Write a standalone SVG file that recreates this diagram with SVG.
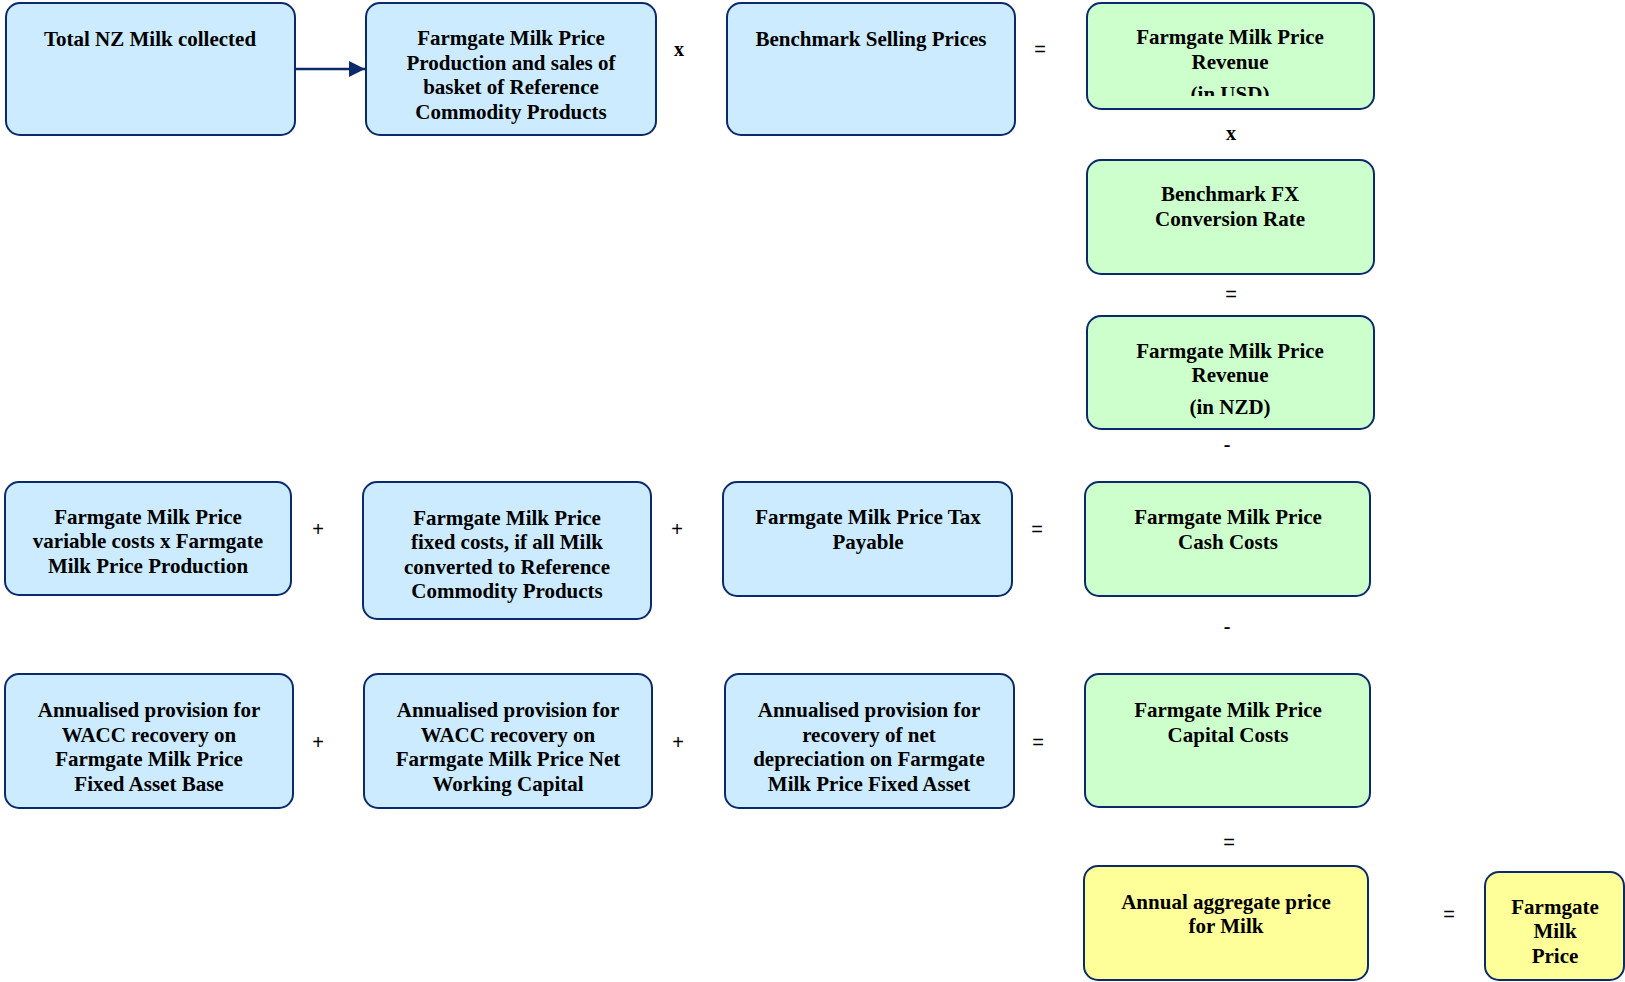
<svg xmlns="http://www.w3.org/2000/svg" width="1625" height="982" viewBox="0 0 1625 982">
<style>
.b{fill:#CCEBFF;stroke:#0B2A6B;stroke-width:2}
.g{fill:#CCFFCC;stroke:#0B2A6B;stroke-width:2}
.y{fill:#FFFF99;stroke:#0B2A6B;stroke-width:2}
text{font-family:"Liberation Serif","Times New Roman",serif;font-size:21px;font-weight:bold;fill:#000;text-anchor:middle;dominant-baseline:central}
.op{font-family:"Liberation Sans",Arial,sans-serif;font-weight:normal;font-size:20px}
.opb{font-weight:bold;font-size:20px}
</style>
<defs>
<marker id="ah" viewBox="0 0 10 10" refX="10" refY="5" markerWidth="17" markerHeight="16" orient="auto" markerUnits="userSpaceOnUse"><path d="M0,0 L10,5 L0,10 z" fill="#0B2A6B"/></marker>
<clipPath id="c4"><rect x="1087" y="3" width="287" height="93"/></clipPath>
</defs>
<rect width="1625" height="982" fill="#fff"/>
<g id="connectors">
<line x1="295" y1="69" x2="365" y2="69" stroke="#0B2A6B" stroke-width="2.5" marker-end="url(#ah)"/>
</g>
<g id="ops">
<text class="opb" x="679" y="49">x</text>
<text class="op" x="1040" y="49">=</text>
<text class="opb" x="1231" y="133">x</text>
<text class="op" x="1231" y="294">=</text>
<text class="opb" x="1227" y="444">-</text>
<text class="op" x="318" y="529">+</text>
<text class="op" x="677" y="529">+</text>
<text class="op" x="1037" y="529">=</text>
<text class="opb" x="1227" y="626">-</text>
<text class="op" x="318" y="742">+</text>
<text class="op" x="678" y="742">+</text>
<text class="op" x="1038" y="742">=</text>
<text class="op" x="1229" y="842">=</text>
<text class="op" x="1449" y="914">=</text>
</g>
<g id="n1"><rect class="b" x="6" y="3" width="289" height="132" rx="14"/><text x="150" y="39">Total NZ Milk collected</text></g>
<g id="n2"><rect class="b" x="366" y="3" width="290" height="132" rx="14"/><text x="511" y="38">Farmgate Milk Price</text><text x="511" y="63">Production and sales of</text><text x="511" y="87">basket of Reference</text><text x="511" y="112">Commodity Products</text></g>
<g id="n3"><rect class="b" x="727" y="3" width="288" height="132" rx="14"/><text x="871" y="39">Benchmark Selling Prices</text></g>
<g id="n4"><rect class="g" x="1087" y="3" width="287" height="106" rx="14"/><g clip-path="url(#c4)"><text x="1230" y="37">Farmgate Milk Price</text><text x="1230" y="62">Revenue</text><text x="1230" y="94">(in USD)</text></g></g>
<g id="n5"><rect class="g" x="1087" y="160" width="287" height="114" rx="14"/><text x="1230" y="194">Benchmark FX</text><text x="1230" y="219">Conversion Rate</text></g>
<g id="n6"><rect class="g" x="1087" y="316" width="287" height="113" rx="14"/><text x="1230" y="351">Farmgate Milk Price</text><text x="1230" y="375">Revenue</text><text x="1230" y="407">(in NZD)</text></g>
<g id="n7"><rect class="b" x="5" y="482" width="286" height="113" rx="14"/><text x="148" y="517">Farmgate Milk Price</text><text x="148" y="541">variable costs x Farmgate</text><text x="148" y="566">Milk Price Production</text></g>
<g id="n8"><rect class="b" x="363" y="482" width="288" height="137" rx="14"/><text x="507" y="518">Farmgate Milk Price</text><text x="507" y="542">fixed costs, if all Milk</text><text x="507" y="567">converted to Reference</text><text x="507" y="591">Commodity Products</text></g>
<g id="n9"><rect class="b" x="723" y="482" width="289" height="114" rx="14"/><text x="868" y="517">Farmgate Milk Price Tax</text><text x="868" y="542">Payable</text></g>
<g id="n10"><rect class="g" x="1085" y="482" width="285" height="114" rx="14"/><text x="1228" y="517">Farmgate Milk Price</text><text x="1228" y="542">Cash Costs</text></g>
<g id="n11"><rect class="b" x="5" y="674" width="288" height="134" rx="14"/><text x="149" y="710">Annualised provision for</text><text x="149" y="735">WACC recovery on</text><text x="149" y="759">Farmgate Milk Price</text><text x="149" y="784">Fixed Asset Base</text></g>
<g id="n12"><rect class="b" x="364" y="674" width="288" height="134" rx="14"/><text x="508" y="710">Annualised provision for</text><text x="508" y="735">WACC recovery on</text><text x="508" y="759">Farmgate Milk Price Net</text><text x="508" y="784">Working Capital</text></g>
<g id="n13"><rect class="b" x="725" y="674" width="289" height="134" rx="14"/><text x="869" y="710">Annualised provision for</text><text x="869" y="735">recovery of net</text><text x="869" y="759">depreciation on Farmgate</text><text x="869" y="784">Milk Price Fixed Asset</text></g>
<g id="n14"><rect class="g" x="1085" y="674" width="285" height="133" rx="14"/><text x="1228" y="710">Farmgate Milk Price</text><text x="1228" y="735">Capital Costs</text></g>
<g id="n15"><rect class="y" x="1084" y="866" width="284" height="114" rx="14"/><text x="1226" y="902">Annual aggregate price</text><text x="1226" y="926">for Milk</text></g>
<g id="n16"><rect class="y" x="1485" y="872" width="139" height="108" rx="14"/><text x="1555" y="907">Farmgate</text><text x="1555" y="931">Milk</text><text x="1555" y="956">Price</text></g>
</svg>
